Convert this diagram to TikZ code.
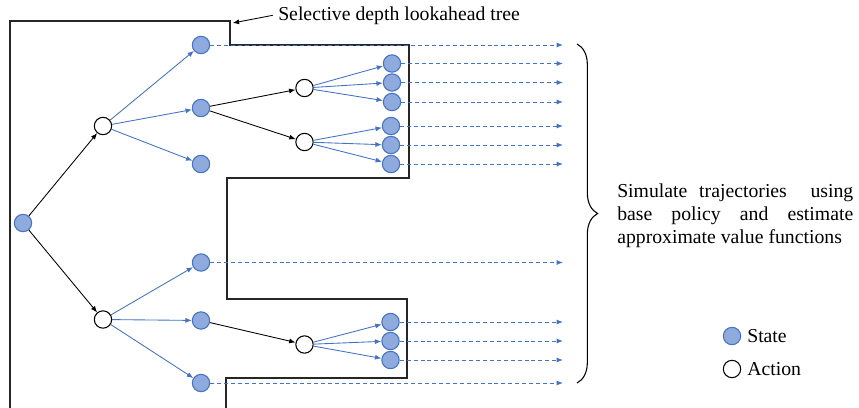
\documentclass[tikz,border=0pt]{standalone}
\usepackage{fontspec}
\setmainfont{Liberation Serif}
\usetikzlibrary{arrows.meta,decorations.pathreplacing}
\definecolor{stfill}{HTML}{8FAADC}
\definecolor{stline}{HTML}{4472C4}
\definecolor{arblue}{HTML}{4472C4}
\tikzset{
  statenode/.style={circle,draw=stline,fill=stfill,line width=0.8pt,minimum size=13pt,inner sep=0pt},
  actionnode/.style={circle,draw=black,fill=white,line width=0.8pt,minimum size=13pt,inner sep=0pt},
  tip/.style={-{Latex[length=4.8pt,width=3.8pt]}},
  chosen/.style={tip,draw=black,line width=0.65pt},
  branch/.style={tip,draw=arblue,line width=0.65pt},
  rollout/.style={tip,draw=arblue,line width=0.75pt,dash pattern=on 3pt off 2.2pt},
  outline/.style={draw=black!85,line width=1pt},
  txt/.style={font=\fontsize{14.8}{17.25}\selectfont,inner sep=0pt}
}
\begin{document}
\begin{tikzpicture}[x=0.75pt,y=-0.75pt]
\useasboundingbox (0,0) rectangle (859,407);

% selective-depth boundary
\draw[outline] (10,410) -- (10,21) coordinate (c0) -- (230,21) coordinate (corner)
  -- (230,45) -- (409,45) -- (409,178) -- (227,178) -- (227,299) -- (407,299)
  -- (407,378) -- (226,378) -- (226,410);

% root
\node[statenode] (s0) at (23,223) {};
% first actions
\node[actionnode] (a1) at (103,126) {};
\node[actionnode] (a2) at (103,319.5) {};
% second-level states
\node[statenode] (s1) at (201,45) {};
\node[statenode] (s2) at (201,108) {};
\node[statenode] (s3) at (201,164) {};
\node[statenode] (s4) at (201,262.5) {};
\node[statenode] (s5) at (201,320.5) {};
\node[statenode] (s6) at (201,383) {};
% second-level actions
\node[actionnode] (a3) at (304.5,88) {};
\node[actionnode] (a4) at (304.5,142) {};
\node[actionnode] (a5) at (304.5,344.5) {};
% leaf states
\node[statenode] (t1) at (392,63.5) {};
\node[statenode] (t2) at (392,82.5) {};
\node[statenode] (t3) at (392,102) {};
\node[statenode] (t4) at (391,126) {};
\node[statenode] (t5) at (391,145) {};
\node[statenode] (t6) at (391,164) {};
\node[statenode] (t7) at (390.5,322) {};
\node[statenode] (t8) at (390.5,341) {};
\node[statenode] (t9) at (390.5,360) {};

% expanded branches
\draw[chosen] (s0) -- (a1);
\draw[chosen] (s0) -- (a2);
\draw[chosen] (s2) -- (a3);
\draw[chosen] (s2) -- (a4);
\draw[chosen] (s5) -- (a5);
% transitions
\foreach \a/\s in {a1/s1,a1/s2,a1/s3,a2/s4,a2/s5,a2/s6,
                   a3/t1,a3/t2,a3/t3,a4/t4,a4/t5,a4/t6,a5/t7,a5/t8,a5/t9}
  \draw[branch] (\a) -- (\s);

% rollouts with the base policy
\foreach \s in {s1,t1,t2,t3,t4,t5,t6,s4,t7,t8,t9,s6}{
  \coordinate (r-\s) at (563,0 |- \s);
  \draw[rollout] (\s.east) -- (r-\s);
}

% tree label
\node[txt,anchor=west] (lbl) at (278,16) {Selective depth lookahead tree};
\draw[chosen] ([xshift=-4pt,yshift=0.5pt]lbl.west) -- ([xshift=2pt,yshift=-1.5pt]corner);

% brace and explanation
\coordinate (btop) at (577,44);
\coordinate (bbot) at (577,383);
\draw[line width=0.8pt,decorate,decoration={brace,amplitude=15.5pt,aspect=0.5}] (btop) -- (bbot);
\node[txt,anchor=west,align=left] (expl) at (617,216) {%
  \makebox[177pt][s]{Simulate trajectories\ \ using}\\
  \makebox[177pt][s]{base policy and estimate}\\
  approximate value functions};

% legend
\node[statenode] (legS) at (732,336) {};
\node[actionnode] (legA) at (732,369) {};
\node[txt,anchor=west] (legSt) at (747,336) {State};
\node[txt,anchor=west] (legAt) at (747,369) {Action};
\end{tikzpicture}
\end{document}
